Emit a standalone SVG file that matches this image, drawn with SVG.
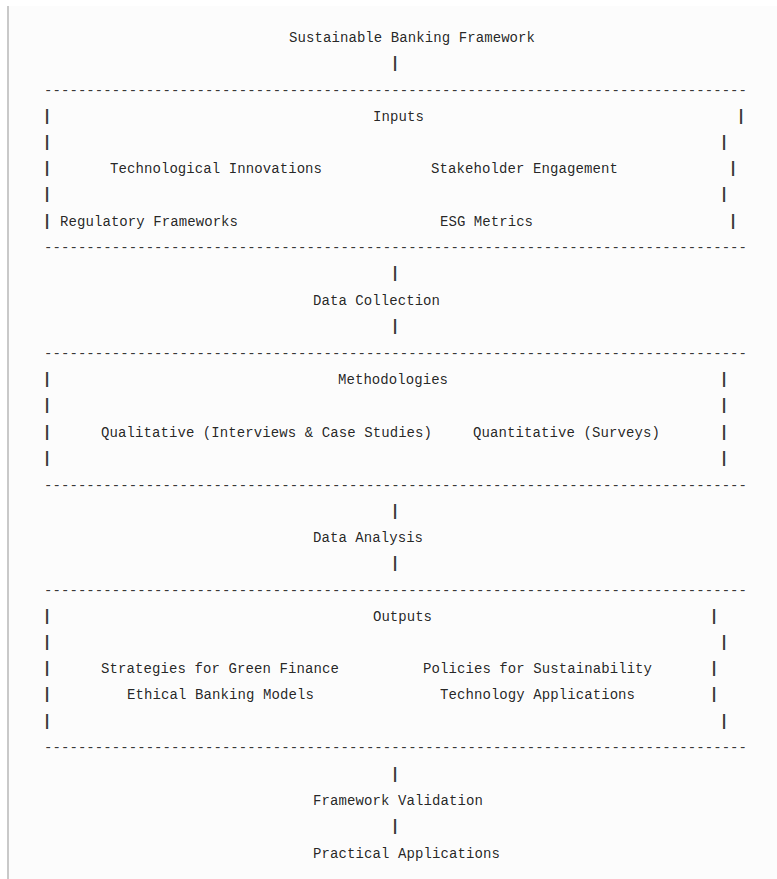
<svg xmlns="http://www.w3.org/2000/svg" width="777" height="879" viewBox="0 0 777 879">
<style>
text{font-family:"Liberation Mono","DejaVu Sans Mono",monospace;font-size:14px;fill:#222;fill-opacity:0.99;}
.p{text-anchor:middle;font-size:16px;font-weight:bold;fill:#333;opacity:0.99;}
.d{fill:#333;}
</style>
<rect x="0" y="0" width="777" height="879" fill="#ffffff"/>
<rect x="9" y="6" width="768" height="873" fill="#fcfcfc"/>
<line x1="8" y1="6" x2="8" y2="879" stroke="#c9c9c9" stroke-width="2"/>

<g id="title"><text x="289" y="42" textLength="246" lengthAdjust="spacing">Sustainable Banking Framework</text></g>

<g id="inputs">
<text class="d" x="44" y="95" textLength="703" lengthAdjust="spacing">-----------------------------------------------------------------------------------</text>
<text class="p" x="47" y="121">|</text><text x="373" y="121" textLength="51" lengthAdjust="spacing">Inputs</text><text class="p" x="741" y="121">|</text>
<text class="p" x="47" y="147">|</text><text class="p" x="724" y="147">|</text>
<text class="p" x="47" y="173">|</text><text x="110" y="173" textLength="212" lengthAdjust="spacing">Technological Innovations</text><text x="431" y="173" textLength="187" lengthAdjust="spacing">Stakeholder Engagement</text><text class="p" x="733" y="173">|</text>
<text class="p" x="47" y="199">|</text><text class="p" x="724" y="199">|</text>
<text class="p" x="47" y="226">|</text><text x="60" y="226" textLength="178" lengthAdjust="spacing">Regulatory Frameworks</text><text x="440" y="226" textLength="93" lengthAdjust="spacing">ESG Metrics</text><text class="p" x="733" y="226">|</text>
<text class="d" x="44" y="252" textLength="703" lengthAdjust="spacing">-----------------------------------------------------------------------------------</text>
</g>

<g id="data-collection"><text x="313" y="305" textLength="127" lengthAdjust="spacing">Data Collection</text></g>

<g id="methodologies">
<text class="d" x="44" y="358" textLength="703" lengthAdjust="spacing">-----------------------------------------------------------------------------------</text>
<text class="p" x="47" y="384">|</text><text x="338" y="384" textLength="110" lengthAdjust="spacing">Methodologies</text><text class="p" x="724" y="384">|</text>
<text class="p" x="47" y="410">|</text><text class="p" x="724" y="410">|</text>
<text class="p" x="47" y="437">|</text><text x="101" y="437" textLength="331" lengthAdjust="spacing">Qualitative (Interviews &amp; Case Studies)</text><text x="473" y="437" textLength="187" lengthAdjust="spacing">Quantitative (Surveys)</text><text class="p" x="724" y="437">|</text>
<text class="p" x="47" y="463">|</text><text class="p" x="724" y="463">|</text>
<text class="d" x="44" y="490" textLength="703" lengthAdjust="spacing">-----------------------------------------------------------------------------------</text>
</g>

<g id="data-analysis"><text x="313" y="542" textLength="110" lengthAdjust="spacing">Data Analysis</text></g>

<g id="outputs">
<text class="d" x="44" y="595" textLength="703" lengthAdjust="spacing">-----------------------------------------------------------------------------------</text>
<text class="p" x="47" y="621">|</text><text x="373" y="621" textLength="59" lengthAdjust="spacing">Outputs</text><text class="p" x="714" y="621">|</text>
<text class="p" x="47" y="647">|</text><text class="p" x="724" y="647">|</text>
<text class="p" x="47" y="673">|</text><text x="101" y="673" textLength="238" lengthAdjust="spacing">Strategies for Green Finance</text><text x="423" y="673" textLength="229" lengthAdjust="spacing">Policies for Sustainability</text><text class="p" x="714" y="673">|</text>
<text class="p" x="47" y="699">|</text><text x="127" y="699" textLength="187" lengthAdjust="spacing">Ethical Banking Models</text><text x="440" y="699" textLength="195" lengthAdjust="spacing">Technology Applications</text><text class="p" x="714" y="699">|</text>
<text class="p" x="47" y="726">|</text><text class="p" x="724" y="726">|</text>
<text class="d" x="44" y="752" textLength="703" lengthAdjust="spacing">-----------------------------------------------------------------------------------</text>
</g>

<g id="framework-validation"><text x="313" y="805" textLength="170" lengthAdjust="spacing">Framework Validation</text></g>
<g id="practical-applications"><text x="313" y="858" textLength="187" lengthAdjust="spacing">Practical Applications</text></g>

<g id="connectors">
<text class="p" x="395" y="68">|</text>
<text class="p" x="395" y="278">|</text>
<text class="p" x="395" y="331">|</text>
<text class="p" x="395" y="516">|</text>
<text class="p" x="395" y="568">|</text>
<text class="p" x="395" y="779">|</text>
<text class="p" x="395" y="831">|</text>
</g>
</svg>
